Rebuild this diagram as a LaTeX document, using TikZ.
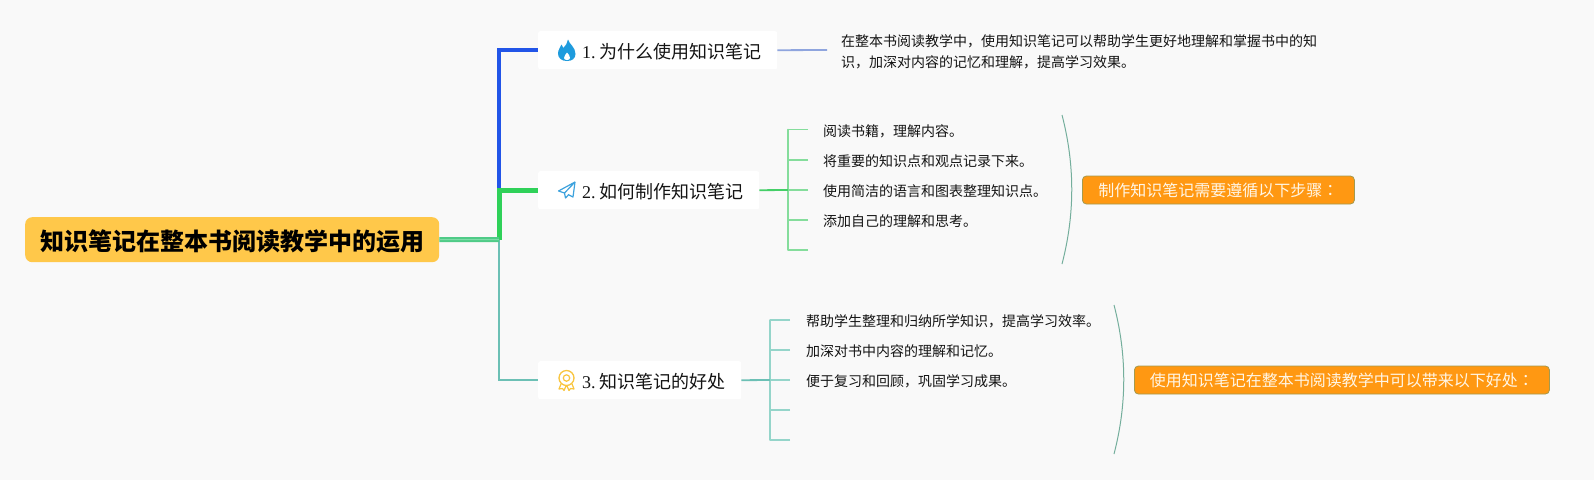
\documentclass[tikz,border=0pt]{standalone}
\usepackage{fontspec}
\setmainfont{Liberation Serif}
\newfontfamily\cjk{Noto Sans CJK SC}
\newfontfamily\cjktc{Noto Sans CJK TC}
\definecolor{bgc}{HTML}{F9F9F9}
\definecolor{rootc}{HTML}{FFC84A}
\definecolor{blueL}{HTML}{2255E8}
\definecolor{greenL}{HTML}{2FD159}
\definecolor{rootL}{HTML}{4FCB87}
\definecolor{rootM}{HTML}{7FDCA8}
\definecolor{tealL}{HTML}{6CC0B5}
\definecolor{blueS}{HTML}{8FA5DE}
\definecolor{greenS}{HTML}{45CF68}
\definecolor{greenT}{HTML}{85DD9C}
\definecolor{tealT}{HTML}{95D5CA}
\definecolor{arcA}{HTML}{74AE9C}
\definecolor{calloutF}{HTML}{FF9812}
\definecolor{calloutD}{HTML}{A39A50}
\definecolor{calloutT}{HTML}{FFF6E6}
\definecolor{flame}{HTML}{1E9BDD}
\definecolor{plane}{HTML}{3DA2DD}
\definecolor{medal}{HTML}{F9C53F}
\tikzset{
  rootbox/.style={fill=rootc,rounded corners=7pt,minimum width=414pt,minimum height=45pt,inner sep=0pt,anchor=north west},
  roottext/.style={inner sep=0pt,font=\cjk\bfseries\fontsize{24}{28}\selectfont},
  topicbox/.style={fill=white,rounded corners=2pt,inner sep=0pt,minimum height=38pt,anchor=north west},
  topictext/.style={inner sep=0pt,anchor=west,font=\fontsize{18}{22}\selectfont,text=black!92},
  leaftext/.style={inner sep=0pt,anchor=west,font=\cjk\fontsize{14}{16}\selectfont,text=black!92},
  detailtext/.style={inner sep=0pt,anchor=west,align=left,font=\cjk\fontsize{14}{21}\selectfont,text=black!92},
  callout/.style={fill=calloutF,draw=calloutD,line width=0.8pt,rounded corners=4pt,inner sep=0pt,minimum height=28pt,anchor=west,text=calloutT,font=\cjk\fontsize{16}{20}\selectfont},
  twig/.style={line width=1.5pt},
}
\begin{document}
\begin{tikzpicture}[x=1pt,y=-1pt,line join=miter]
\useasboundingbox[fill=bgc] (0,0) rectangle (1594,480);
% nodes
\node[rootbox] (root) at (25,217) {};
\node[roottext] (rootl) at (232,241.5) {知识笔记在整本书阅读教学中的运用};
\node[topicbox,minimum width=239pt] (t1) at (538,31) {};
\node[topicbox,minimum width=221pt] (t2) at (538,171) {};
\node[topicbox,minimum width=203pt] (t3) at (538,361) {};
\node[topictext] (t1l) at (582,51.5) {1.\hspace{3.5pt}{\cjk 为什么使用知识笔记}};
\node[topictext] (t2l) at (582,191.5) {2.\hspace{3.5pt}{\cjk 如何制作知识笔记}};
\node[topictext] (t3l) at (582,381.5) {3.\hspace{3.5pt}{\cjk 知识笔记的好处}};
\coordinate (j) at (499,239.5);
% main branches
\draw[tealL,line width=2.5pt] (j) |- (t3.west);
\draw[blueL,line width=3.5pt] (499,190) |- (t1.west);
\draw[greenL,line width=5pt] (j) |- (t2.west);
\draw[rootL,line width=5pt] (root.east) -- (j);
\draw[rootM,line width=1pt] (root.east) -- (j);
% details of topic 1
\coordinate (d1) at (827,50);
\draw[blueS,line width=1.8pt] (t1.east) -- (d1);
\node[detailtext] (d1t) at (841,52) {在整本书阅读教学中，使用知识笔记可以帮助学生更好地理解和掌握书中的知\\识，加深对内容的记忆和理解，提高学习效果。};
% twigs of topic 2
\coordinate (a) at (788,190);
\foreach \n/\y in {1/129.5,2/160,3/190,4/220,5/250}{
  \coordinate (a\n) at (808,\y);
  \draw[greenT,twig] (a\n) -- (788,\y);
}
\draw[greenT,twig,line cap=round] (788,129.5) -- (788,250);
\draw[greenS,line width=1.8pt] (t2.east) -- (a);
\node[leaftext] (a1t) at (823,131.5) {阅读书籍，理解内容。};
\node[leaftext] (a2t) at (823,161.5) {将重要的知识点和观点记录下来。};
\node[leaftext] (a3t) at (823,191.5) {使用简洁的语言和图表整理知识点。};
\node[leaftext] (a4t) at (823,221.5) {添加自己的理解和思考。};
% twigs of topic 3
\coordinate (b) at (770,380);
\foreach \n/\y in {1/320,2/350,3/380,4/410,5/440}{
  \coordinate (b\n) at (790,\y);
  \draw[tealT,twig] (b\n) -- (770,\y);
}
\draw[tealT,twig,line cap=round] (770,320) -- (770,440);
\draw[tealL,line width=1.8pt] (t3.east) -- (b);
\node[leaftext] (b1t) at (806,321) {帮助学生整理和归纳所学知识，提高学习效率。};
\node[leaftext] (b2t) at (806,351) {加深对书中内容的理解和记忆。};
\node[leaftext] (b3t) at (806,381) {便于复习和回顾，巩固学习成果。};
% summary arcs and callouts
\coordinate (c1a) at (1062,115);\coordinate (c1b) at (1062,264);
\coordinate (c2a) at (1114,305);\coordinate (c2b) at (1114,454);
\draw[arcA,line width=1pt] (c1a) .. controls (1075,165) and (1075,214) .. (c1b);
\draw[arcA,line width=1pt] (c2a) .. controls (1127,355) and (1127,404) .. (c2b);
\node[callout,minimum width=272pt] (c1) at (1082,190) {制作知识笔记需要遵循以下步骤{\cjktc ：}};
\node[callout,minimum width=415pt] (c2) at (1134,380) {使用知识笔记在整本书阅读教学中可以带来以下好处{\cjktc ：}};
% icons
\fill[flame] (568,39.5) .. controls (569,44) and (575.5,47) .. (575.5,54) .. controls (575.5,58.5) and (572,61) .. (567,61) .. controls (562,61) and (558,58.5) .. (558,53.5) .. controls (558,49.5) and (560.5,47.5) .. (561.5,44.5) .. controls (562.5,46) and (563,47) .. (563.3,48) .. controls (565.5,46) and (567.5,43) .. (568,39.5) -- cycle;
\fill[white] (567,52.5) .. controls (568,54.5) and (570.5,55.5) .. (570,58) .. controls (569.7,59.5) and (568.5,60) .. (567,60) .. controls (565.5,60) and (564,59.5) .. (564,58) .. controls (564,55.5) and (566,54.5) .. (567,52.5) -- cycle;
\draw[plane,line width=1.2pt,line join=round] (575,182) -- (558.5,191) -- (564.5,193) -- cycle (564.5,193) -- (565.5,198) -- (568.5,194.8) (568,194.5) -- (573,197) -- (575,182) (564.5,193) -- (575,182);
\draw[medal,line width=1.3pt] (566.5,378) circle (7.5pt);
\draw[medal,line width=1.2pt] (566.5,378) circle (3.2pt);
\draw[medal,line width=1.2pt,line join=round] (561,384) -- (559,389) -- (562.5,388.5) -- (564,390.5) -- (566,386) (567,386) -- (569,390.5) -- (570.5,388.5) -- (574,389) -- (572,384);
\end{tikzpicture}
\end{document}
